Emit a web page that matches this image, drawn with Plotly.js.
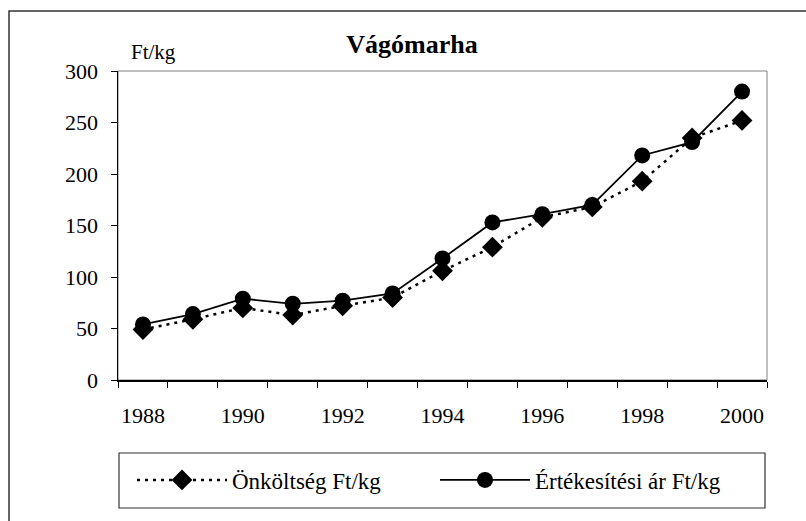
<!DOCTYPE html>
<html>
<head>
<meta charset="utf-8">
<script src="https://cdn.plot.ly/plotly-3.0.1.min.js"></script>
<style>html,body{margin:0;padding:0;background:#fff;}#chart{width:806px;height:521px;}</style>
</head>
<body>
<div id="chart"></div>
<script>
const years = [1988, 1989, 1990, 1991, 1992, 1993, 1994, 1995, 1996, 1997, 1998, 1999, 2000];
const onkoltseg = [49, 59, 70, 63, 72, 80, 106, 129, 158, 168, 193, 235, 252];
const ertekesitesi = [54, 64, 79, 74, 77, 84, 118, 153, 161, 170, 218, 231, 280];
const seriesNames = ["Önköltség Ft/kg", "Értékesítési ár Ft/kg"];
const titleText = "Vágómarha";
const unitText = "Ft/kg";

const serif = "Liberation Serif, Times New Roman, serif";

const traces = [
  {
    x: years, y: onkoltseg, name: seriesNames[0], type: "scatter", mode: "lines+markers",
    line: {color: "#000", width: 2.5, dash: "3px,5px"},
    marker: {symbol: "diamond", size: 16, color: "#000"},
    hoverinfo: "skip"
  },
  {
    x: years, y: ertekesitesi, name: seriesNames[1], type: "scatter", mode: "lines+markers",
    line: {color: "#000", width: 1.8},
    marker: {symbol: "circle", size: 16, color: "#000"},
    hoverinfo: "skip"
  }
];

const layout = {
  width: 806, height: 521,
  margin: {l: 118, r: 39, t: 71, b: 141, pad: 0},
  paper_bgcolor: "#fff", plot_bgcolor: "#fff",
  font: {family: serif, size: 22, color: "#000"},
  showlegend: true,
  title: {text: "<b>" + titleText + "</b>", x: 412/806, xref: "container", xanchor: "center",
          y: 1 - 44/521, yref: "container", yanchor: "middle",
          font: {family: serif, size: 26, color: "#000"}},
  xaxis: {
    type: "linear", range: [1987.5, 2000.5], tickmode: "linear", tick0: 1988, dtick: 2,
    ticks: "", showgrid: false, zeroline: false, showline: true, linecolor: "#000", linewidth: 1.5,
    tickfont: {family: serif, size: 22, color: "#000"}, ticklabelstandoff: 15,
    minor: {tickmode: "linear", tick0: 1987.5, dtick: 1, ticks: "outside", ticklen: 6, tickcolor: "#000", tickwidth: 1, showgrid: false}
  },
  yaxis: {
    range: [0, 300], tickmode: "linear", tick0: 0, dtick: 50,
    ticks: "outside", ticklen: 6, tickcolor: "#000", tickwidth: 1,
    showgrid: false, zeroline: false, showline: true, linecolor: "#000", linewidth: 1.5,
    tickfont: {family: serif, size: 22, color: "#000"}, ticklabelstandoff: 8
  },
  legend: {
    orientation: "h", x: 14/649, xanchor: "left", y: -100/309, yanchor: "middle",
    bgcolor: "rgba(0,0,0,0)", borderwidth: 0, itemwidth: 90, entrywidth: 198,
    font: {family: serif, size: 23, color: "#000"}, itemclick: false, itemdoubleclick: false
  },
  shapes: [
    {type: "rect", xref: "paper", yref: "paper", x0: 0, x1: 1, y0: 0, y1: 1,
     line: {color: "#808080", width: 1}, layer: "below"},
    {type: "rect", xref: "paper", yref: "paper", x0: 1/649, x1: 647/649, y0: -73/309, y1: -128/309,
     line: {color: "#333", width: 1.2}, fillcolor: "rgba(0,0,0,0)"},
    {type: "path", xref: "paper", yref: "paper",
     path: "M " + (-109/649) + " " + (-160/309) + " L " + (-109/649) + " " + (1 + 60/309) + " L " + (700/649) + " " + (1 + 60/309),
     line: {color: "#333", width: 1.5}}
  ],
  annotations: [
    {text: unitText, xref: "paper", yref: "paper", x: 11/649, y: 1 + 19/309, xanchor: "left", yanchor: "middle",
     showarrow: false, font: {family: serif, size: 21, color: "#000"}}
  ]
};

Plotly.newPlot("chart", traces, layout, {displayModeBar: false, staticPlot: true});
</script>
</body>
</html>
